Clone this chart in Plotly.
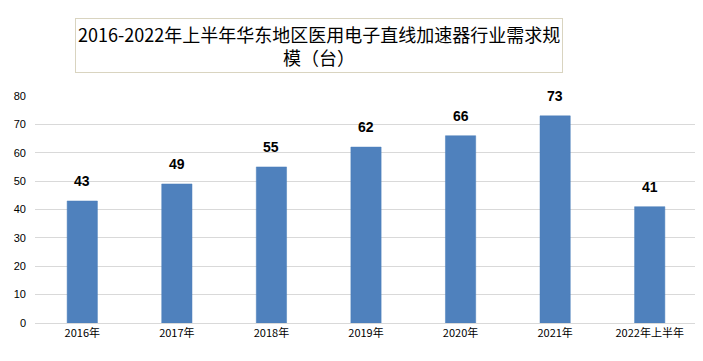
import plotly.graph_objects as go

categories = ["2016年", "2017年", "2018年", "2019年", "2020年", "2021年", "2022年上半年"]
values = [43, 49, 55, 62, 66, 73, 41]
y_ticks = [0, 10, 20, 30, 40, 50, 60, 70, 80]

# page body has an 8px margin; figure sized to fit the 703x361 window
W, H = 695, 353
L, R, T, B = 23, 6, 88, 38
plot_w = W - L - R
plot_h = H - T - B

fig = go.Figure()
fig.add_trace(go.Bar(
    x=categories, y=values,
    marker=dict(color="#4F81BD", line=dict(color="#4A7EBB", width=0.5)),
    width=0.32,
    hoverinfo="x+y",
))

annotations = [
    dict(x=c, y=v, xref="x", yref="y", text=f"<b>{v}</b>",
         showarrow=False, yanchor="middle", yshift=20,
         font=dict(family="Liberation Sans, Arial", size=14, color="#000000"))
    for c, v in zip(categories, values)
]
annotations.append(dict(
    text="2016-2022年上半年华东地区医用电子直线加速器行业需求规<br>模（台）",
    xref="paper", yref="paper",
    x=(317 - 8 - L) / plot_w, y=1 + (T - (45 - 8)) / plot_h,
    xanchor="center", yanchor="middle",
    showarrow=False, align="center",
    font=dict(family="Noto Sans CJK SC", size=18, color="#000000"),
    bordercolor="#d9d4c0", borderwidth=1, borderpad=2,
    bgcolor="white",
))

fig.update_layout(
    width=W, height=H,
    margin=dict(l=L, r=R, t=T, b=B),
    paper_bgcolor="white", plot_bgcolor="white",
    showlegend=False,
    font=dict(family="Noto Sans CJK SC", color="#000000"),
    xaxis=dict(
        tickfont=dict(family="Noto Sans CJK SC", size=11, color="#000000"),
        showline=True, linecolor="#d9d9d9", linewidth=1,
        showgrid=False, ticks="",
    ),
    yaxis=dict(
        range=[0, 80], tickvals=y_ticks,
        tickfont=dict(family="Liberation Sans, Arial", size=11, color="#000000"),
        showgrid=True, gridcolor="#d9d9d9", gridwidth=1,
        zeroline=False, ticks="", showline=False,
        ticklabelstandoff=8,
    ),
    annotations=annotations,
)
fig.write_html("out.html")
